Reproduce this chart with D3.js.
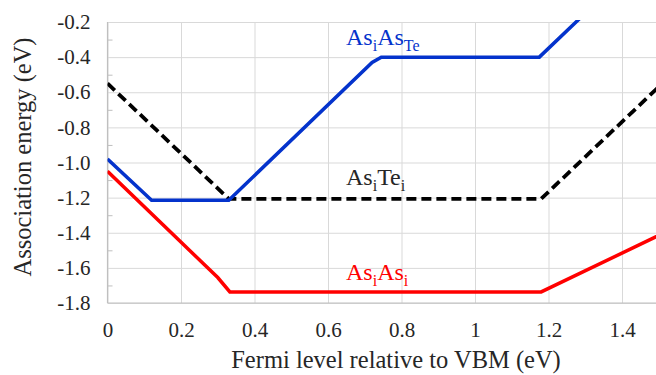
<!DOCTYPE html>
<html>
<head>
<meta charset="utf-8">
<script src="https://cdn.jsdelivr.net/npm/d3@7"></script>
</head>
<body style="margin:0">
<svg width="656" height="375"></svg>
<script>
// data (x: Fermi level in eV, y: association energy in eV)
const asiAsTeX = [0, 0.12, 0.33, 0.72, 0.745, 1.175, 1.30];
const asiAsTeY = [-0.98, -1.215, -1.215, -0.43, -0.40, -0.40, -0.15];
const asiTeiX = [0, 0.33, 1.18, 1.6];
const asiTeiY = [-0.55, -1.207, -1.207, -0.37];
const asiAsiX = [0, 0.30, 0.333, 1.18, 1.6];
const asiAsiY = [-1.05, -1.655, -1.737, -1.737, -1.315];

const xTicks = [0, 0.2, 0.4, 0.6, 0.8, 1, 1.2, 1.4];
const yTicks = [-1.8, -1.6, -1.4, -1.2, -1.0, -0.8, -0.6, -0.4, -0.2];
const yMinor = [-1.7, -1.5, -1.3, -1.1, -0.9, -0.7, -0.5, -0.3];

const FONT = "Liberation Serif";

const svg = d3.select("svg");
const mLeft = 107.5, mTop = 22, mBottom = 303, mRight = 107.5 + 1.6 * 367.5;

let x = d3.scaleLinear().domain([0, 1.6]).range([mLeft, mRight]);
let y = d3.scaleLinear().domain([-1.8, -0.2]).range([mBottom, mTop]);

function serif(sel, size) {
  return sel.attr("font-family", FONT).style("font-family", "'" + FONT + "'")
    .attr("font-size", size).style("font-size", size + "px");
}

// gridlines
svg.append("g")
  .attr("transform", "translate(0," + mBottom + ")")
  .call(d3.axisBottom(x).tickValues(xTicks).tickSize(-(mBottom - mTop)).tickFormat(""))
  .call(g => g.select(".domain").remove())
  .selectAll("line").attr("stroke", "#d9d9d9");

svg.append("g")
  .attr("transform", "translate(" + mLeft + ",0)")
  .call(d3.axisLeft(y).tickValues(yTicks).tickSize(-(mRight - mLeft)).tickFormat(""))
  .call(g => g.select(".domain").remove())
  .selectAll("line").attr("stroke", "#d9d9d9");

// minor ticks on the y axis
svg.append("g")
  .attr("transform", "translate(" + mLeft + ",0)")
  .call(d3.axisRight(y).tickValues(yMinor).tickSize(5).tickFormat(""))
  .call(g => g.select(".domain").remove())
  .selectAll("line").attr("stroke", "#bfbfbf");

// axis lines
svg.append("line").attr("x1", mLeft).attr("x2", mLeft).attr("y1", mTop).attr("y2", mBottom)
  .attr("stroke", "#bfbfbf").attr("stroke-width", 1.2);
svg.append("line").attr("x1", mLeft).attr("x2", mRight).attr("y1", mBottom).attr("y2", mBottom)
  .attr("stroke", "#bfbfbf").attr("stroke-width", 1.2);

// tick labels
let xAxis = svg.append("g")
  .attr("transform", "translate(0," + mBottom + ")")
  .call(d3.axisBottom(x).tickValues(xTicks).tickSize(0).tickPadding(19)
    .tickFormat(d => String(+d.toFixed(1))));
xAxis.select(".domain").remove();
serif(xAxis, 21);
serif(xAxis.selectAll("text"), 21).attr("fill", "#262626");

let yAxis = svg.append("g")
  .attr("transform", "translate(" + mLeft + ",0)")
  .call(d3.axisLeft(y).tickValues(yTicks).tickSize(0).tickPadding(17)
    .tickFormat(d => d.toFixed(1)));
yAxis.select(".domain").remove();
serif(yAxis, 21);
serif(yAxis.selectAll("text"), 21).attr("fill", "#262626");

// axis titles
serif(svg.append("text"), 24.5)
  .attr("x", 396).attr("y", 368)
  .attr("text-anchor", "middle")
  .attr("fill", "#262626")
  .text("Fermi level relative to VBM (eV)");

serif(svg.append("text"), 24.5)
  .attr("transform", "translate(31,157) rotate(-90)")
  .attr("text-anchor", "middle")
  .attr("fill", "#262626")
  .text("Association energy (eV)");

// series
const line = d3.line().x(d => x(d[0])).y(d => y(d[1]));
const plot = svg.append("g");

svg.append("clipPath").attr("id", "plotclip")
  .append("rect").attr("x", mLeft).attr("y", mTop - 2).attr("width", mRight - mLeft).attr("height", mBottom - mTop + 2);
plot.attr("clip-path", "url(#plotclip)");

plot.append("path")
  .datum(d3.zip(asiAsiX, asiAsiY))
  .attr("d", line).attr("fill", "none")
  .attr("stroke", "#ff0000").attr("stroke-width", 3.5);

plot.append("path")
  .datum(d3.zip(asiTeiX, asiTeiY))
  .attr("d", line).attr("fill", "none")
  .attr("stroke", "#000").attr("stroke-width", 3.8)
  .attr("stroke-dasharray", "10,5");

plot.append("path")
  .datum(d3.zip(asiAsTeX, asiAsTeY))
  .attr("d", line).attr("fill", "none")
  .attr("stroke", "#0433cc").attr("stroke-width", 3.5);

// series labels: [base, sub, base, sub]
const labels = [
  { parts: ["As", "i", "As", "Te"], color: "#0433cc", at: [0.649, -0.331] },
  { parts: ["As", "i", "Te", "i"], color: "#262626", at: [0.649, -1.128] },
  { parts: ["As", "i", "As", "i"], color: "#ff0000", at: [0.649, -1.669] }
];

labels.forEach(l => {
  let t = serif(svg.append("text"), 24)
    .attr("x", x(l.at[0])).attr("y", y(l.at[1]))
    .attr("fill", l.color);
  l.parts.forEach((p, i) => {
    let s = t.append("tspan").text(p);
    if (i % 2 === 1) s.attr("dy", 6).attr("font-size", 16).style("font-size", "16px");
    else if (i > 0) s.attr("dy", -6);
  });
});
</script>
</body>
</html>
